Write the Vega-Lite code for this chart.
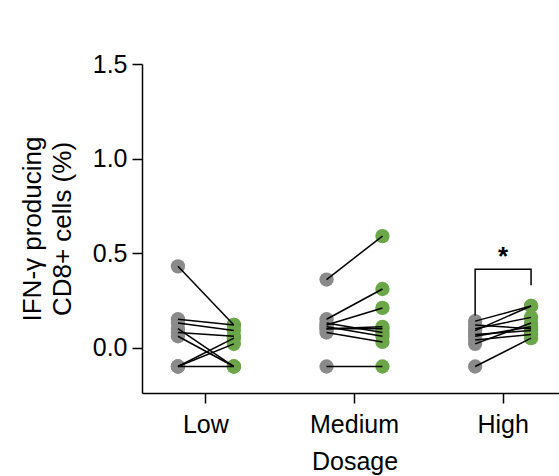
{
  "$schema": "https://vega.github.io/schema/vega-lite/v6.json",
  "width": 425,
  "height": 329,
  "autosize": {"type": "none"},
  "padding": {"left": 142, "top": 64, "right": 0, "bottom": 83},
  "background": "white",
  "config": {
    "view": {"stroke": null},
    "font": "Liberation Sans",
    "axis": {
      "domainColor": "black", "domainWidth": 1.5, "tickColor": "black", "tickWidth": 1.5,
      "tickSize": 10, "labelColor": "black", "titleColor": "black", "labelFontSize": 25,
      "titleFontSize": 25, "titleFontWeight": "normal", "grid": false, "labelFont": "Liberation Sans", "titleFont": "Liberation Sans"
    }
  },
  "datasets": {
    "obs": [
      {"dosage": "Low", "pair": "L1", "group": "Before", "value": 0.43},
      {"dosage": "Low", "pair": "L1", "group": "After", "value": 0.12},
      {"dosage": "Low", "pair": "L2", "group": "Before", "value": 0.15},
      {"dosage": "Low", "pair": "L2", "group": "After", "value": 0.12},
      {"dosage": "Low", "pair": "L3", "group": "Before", "value": 0.13},
      {"dosage": "Low", "pair": "L3", "group": "After", "value": 0.09},
      {"dosage": "Low", "pair": "L4", "group": "Before", "value": 0.10},
      {"dosage": "Low", "pair": "L4", "group": "After", "value": -0.10},
      {"dosage": "Low", "pair": "L5", "group": "Before", "value": 0.08},
      {"dosage": "Low", "pair": "L5", "group": "After", "value": 0.06},
      {"dosage": "Low", "pair": "L6", "group": "Before", "value": 0.06},
      {"dosage": "Low", "pair": "L6", "group": "After", "value": -0.10},
      {"dosage": "Low", "pair": "L7", "group": "Before", "value": -0.10},
      {"dosage": "Low", "pair": "L7", "group": "After", "value": 0.05},
      {"dosage": "Low", "pair": "L8", "group": "Before", "value": -0.10},
      {"dosage": "Low", "pair": "L8", "group": "After", "value": 0.02},
      {"dosage": "Low", "pair": "L9", "group": "Before", "value": -0.10},
      {"dosage": "Low", "pair": "L9", "group": "After", "value": -0.10},
      {"dosage": "Medium", "pair": "M1", "group": "Before", "value": 0.36},
      {"dosage": "Medium", "pair": "M1", "group": "After", "value": 0.59},
      {"dosage": "Medium", "pair": "M2", "group": "Before", "value": 0.15},
      {"dosage": "Medium", "pair": "M2", "group": "After", "value": 0.31},
      {"dosage": "Medium", "pair": "M3", "group": "Before", "value": 0.12},
      {"dosage": "Medium", "pair": "M3", "group": "After", "value": 0.21},
      {"dosage": "Medium", "pair": "M4", "group": "Before", "value": 0.13},
      {"dosage": "Medium", "pair": "M4", "group": "After", "value": 0.08},
      {"dosage": "Medium", "pair": "M5", "group": "Before", "value": 0.10},
      {"dosage": "Medium", "pair": "M5", "group": "After", "value": 0.11},
      {"dosage": "Medium", "pair": "M6", "group": "Before", "value": 0.11},
      {"dosage": "Medium", "pair": "M6", "group": "After", "value": 0.06},
      {"dosage": "Medium", "pair": "M7", "group": "Before", "value": 0.08},
      {"dosage": "Medium", "pair": "M7", "group": "After", "value": 0.03},
      {"dosage": "Medium", "pair": "M8", "group": "Before", "value": 0.10},
      {"dosage": "Medium", "pair": "M8", "group": "After", "value": 0.10},
      {"dosage": "Medium", "pair": "M9", "group": "Before", "value": -0.10},
      {"dosage": "Medium", "pair": "M9", "group": "After", "value": -0.10},
      {"dosage": "High", "pair": "H1", "group": "Before", "value": 0.14},
      {"dosage": "High", "pair": "H1", "group": "After", "value": 0.22},
      {"dosage": "High", "pair": "H2", "group": "Before", "value": 0.10},
      {"dosage": "High", "pair": "H2", "group": "After", "value": 0.16},
      {"dosage": "High", "pair": "H3", "group": "Before", "value": 0.09},
      {"dosage": "High", "pair": "H3", "group": "After", "value": 0.22},
      {"dosage": "High", "pair": "H4", "group": "Before", "value": 0.06},
      {"dosage": "High", "pair": "H4", "group": "After", "value": 0.11},
      {"dosage": "High", "pair": "H5", "group": "Before", "value": 0.04},
      {"dosage": "High", "pair": "H5", "group": "After", "value": 0.07},
      {"dosage": "High", "pair": "H6", "group": "Before", "value": 0.12},
      {"dosage": "High", "pair": "H6", "group": "After", "value": 0.10},
      {"dosage": "High", "pair": "H7", "group": "Before", "value": 0.02},
      {"dosage": "High", "pair": "H7", "group": "After", "value": 0.13},
      {"dosage": "High", "pair": "H8", "group": "Before", "value": -0.10},
      {"dosage": "High", "pair": "H8", "group": "After", "value": 0.05},
      {"dosage": "High", "pair": "H9", "group": "Before", "value": 0.07},
      {"dosage": "High", "pair": "H9", "group": "After", "value": 0.09}
    ],
    "bracket": [
      {"dosage": "High", "group": "Before", "step": 1, "value": 0.17},
      {"dosage": "High", "group": "Before", "step": 2, "value": 0.415},
      {"dosage": "High", "group": "After", "step": 3, "value": 0.415},
      {"dosage": "High", "group": "After", "step": 4, "value": 0.33}
    ],
    "star": [{"dosage": "High", "value": 0.5, "label": "*"}]
  },
  "layer": [
    {
      "mark": {"type": "rule", "color": "black", "strokeWidth": 2.5, "strokeDash": [2, 8.3]},
      "encoding": {"y": {"datum": 0.016, "type": "quantitative"}}
    },
    {
      "data": {"name": "obs"},
      "mark": {"type": "circle", "size": 205, "opacity": 1},
      "encoding": {
        "x": {"field": "dosage", "type": "nominal", "sort": ["Low", "Medium", "High"],
              "scale": {"paddingInner": 0.14, "paddingOuter": 0},
              "axis": {"labelAngle": 0, "labelPadding": 9, "titlePadding": 12}, "title": "Dosage"},
        "xOffset": {"field": "group", "type": "nominal", "sort": ["Before", "After"],
                    "scale": {"paddingInner": 0, "paddingOuter": 0.643}},
        "y": {"field": "value", "type": "quantitative",
              "scale": {"domain": [-0.24, 1.5], "nice": false, "zero": false},
              "axis": {"values": [0, 0.5, 1, 1.5], "format": ".1f", "labelPadding": 5, "titlePadding": 17, "titleFontSize": 26, "titleLineHeight": 30},
              "title": ["IFN-γ producing", "CD8+ cells (%)"]},
        "color": {"field": "group", "type": "nominal", "sort": ["Before", "After"],
                  "scale": {"domain": ["Before", "After"], "range": ["#8a8a8a", "#6ba649"]}, "legend": null}
      }
    },
    {
      "data": {"name": "obs"},
      "mark": {"type": "line", "color": "black", "strokeWidth": 1.5},
      "encoding": {
        "x": {"field": "dosage", "type": "nominal", "sort": ["Low", "Medium", "High"]},
        "xOffset": {"field": "group", "type": "nominal", "sort": ["Before", "After"]},
        "y": {"field": "value", "type": "quantitative"},
        "detail": {"field": "pair", "type": "nominal"}
      }
    },
    {
      "data": {"name": "bracket"},
      "mark": {"type": "line", "color": "black", "strokeWidth": 1.5},
      "encoding": {
        "x": {"field": "dosage", "type": "nominal", "sort": ["Low", "Medium", "High"]},
        "xOffset": {"field": "group", "type": "nominal", "sort": ["Before", "After"]},
        "y": {"field": "value", "type": "quantitative"},
        "order": {"field": "step", "type": "quantitative"}
      }
    },
    {
      "data": {"name": "star"},
      "mark": {"type": "text", "fontSize": 26, "fontWeight": "bold", "color": "black", "baseline": "middle", "dy": 4},
      "encoding": {
        "x": {"field": "dosage", "type": "nominal", "sort": ["Low", "Medium", "High"]},
        "y": {"field": "value", "type": "quantitative"},
        "text": {"field": "label"}
      }
    }
  ]
}
